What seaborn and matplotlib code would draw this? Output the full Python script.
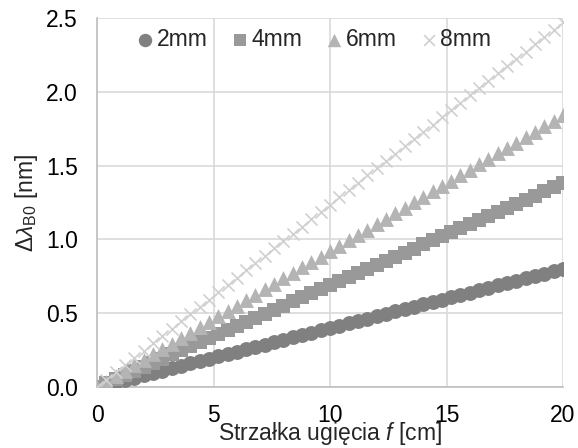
import matplotlib
matplotlib.use("Agg")
import matplotlib.pyplot as plt
import seaborn as sns
import pandas as pd

f_cm = [0.0, 0.4, 0.8, 1.2, 1.6, 2.0, 2.4, 2.8, 3.2, 3.6, 4.0, 4.4, 4.8, 5.2, 5.6, 6.0,
        6.4, 6.8, 7.2, 7.6, 8.0, 8.4, 8.8, 9.2, 9.6, 10.0, 10.4, 10.8, 11.2, 11.6, 12.0,
        12.4, 12.8, 13.2, 13.6, 14.0, 14.4, 14.8, 15.2, 15.6, 16.0, 16.4, 16.8, 17.2, 17.6,
        18.0, 18.4, 18.8, 19.2, 19.6, 20.0]

d2mm = [0, 0.016, 0.032, 0.048, 0.064, 0.080, 0.096, 0.112, 0.128, 0.144, 0.160, 0.176,
        0.192, 0.208, 0.224, 0.240, 0.256, 0.272, 0.288, 0.304, 0.320, 0.336, 0.352, 0.368,
        0.384, 0.400, 0.416, 0.432, 0.448, 0.464, 0.480, 0.496, 0.512, 0.528, 0.544, 0.560,
        0.576, 0.592, 0.608, 0.624, 0.640, 0.656, 0.672, 0.688, 0.704, 0.720, 0.736, 0.752,
        0.768, 0.784, 0.800]
d4mm = [0, 0.028, 0.055, 0.083, 0.110, 0.138, 0.166, 0.193, 0.221, 0.248, 0.276, 0.304,
        0.331, 0.359, 0.386, 0.414, 0.442, 0.469, 0.497, 0.524, 0.552, 0.580, 0.607, 0.635,
        0.662, 0.690, 0.718, 0.745, 0.773, 0.800, 0.828, 0.856, 0.883, 0.911, 0.938, 0.966,
        0.994, 1.021, 1.049, 1.076, 1.104, 1.132, 1.159, 1.187, 1.214, 1.242, 1.270, 1.297,
        1.325, 1.352, 1.380]
d6mm = [0, 0.037, 0.074, 0.110, 0.147, 0.184, 0.221, 0.258, 0.294, 0.331, 0.368, 0.405,
        0.442, 0.478, 0.515, 0.552, 0.589, 0.626, 0.662, 0.699, 0.736, 0.773, 0.810, 0.846,
        0.883, 0.920, 0.957, 0.994, 1.030, 1.067, 1.104, 1.141, 1.178, 1.214, 1.251, 1.288,
        1.325, 1.362, 1.398, 1.435, 1.472, 1.509, 1.546, 1.582, 1.619, 1.656, 1.693, 1.730,
        1.766, 1.803, 1.840]
d8mm = [0, 0.049, 0.099, 0.148, 0.198, 0.247, 0.296, 0.346, 0.395, 0.445, 0.494, 0.543,
        0.593, 0.642, 0.692, 0.741, 0.790, 0.840, 0.889, 0.939, 0.988, 1.037, 1.087, 1.136,
        1.186, 1.235, 1.284, 1.334, 1.383, 1.433, 1.482, 1.531, 1.581, 1.630, 1.680, 1.729,
        1.778, 1.828, 1.877, 1.927, 1.976, 2.025, 2.075, 2.124, 2.174, 2.223, 2.272, 2.322,
        2.371, 2.421, 2.470]

series_names = ["2mm", "4mm", "6mm", "8mm"]
series_vals = [d2mm, d4mm, d6mm, d8mm]
x_ticks = [0, 5, 10, 15, 20]
y_ticks = [0.0, 0.5, 1.0, 1.5, 2.0, 2.5]

rows = []
for name, vals in zip(series_names, series_vals):
    for xv, yv in zip(f_cm, vals):
        rows.append({"f": xv, "d": yv, "s": name})
df = pd.DataFrame(rows)

sns.set_theme(style="white")
plt.rcParams["font.family"] = ["Liberation Sans", "DejaVu Sans"]
plt.rcParams["mathtext.fontset"] = "custom"
plt.rcParams["mathtext.rm"] = "Liberation Sans"
plt.rcParams["mathtext.it"] = "Liberation Sans:italic"
plt.rcParams["mathtext.default"] = "regular"

FS = 16.5

fig = plt.figure(figsize=(5.78, 4.48), dpi=100)
ax = fig.add_axes([0.168, 0.136, 0.806, 0.824])

colors = {"2mm": "#808080", "4mm": "#999999", "6mm": "#b4b4b4", "8mm": "#d0d0d0"}
markers = {"2mm": "o", "4mm": "s", "6mm": "^", "8mm": "x"}
sizes = {"2mm": 115, "4mm": 90, "6mm": 115, "8mm": 75}

for name in series_names:
    sub = df[df["s"] == name]
    if name == "8mm":
        sns.scatterplot(data=sub, x="f", y="d", ax=ax, color=colors[name], marker="x",
                        s=sizes[name], linewidth=1.2, label=name, zorder=3)
    else:
        sns.scatterplot(data=sub, x="f", y="d", ax=ax, color=colors[name], marker=markers[name],
                        s=sizes[name], linewidth=0, label=name, zorder=3)

ax.set_xlim(0, 20)
ax.set_ylim(0, 2.5)
ax.set_xticks(x_ticks)
ax.set_yticks(y_ticks)
ax.set_yticklabels([f"{v:.1f}" for v in y_ticks])
ax.set_xticklabels([str(v) for v in x_ticks])
ax.tick_params(axis="both", length=0, labelsize=FS, colors="black")
ax.tick_params(axis="x", pad=12)
ax.tick_params(axis="y", pad=14)
ax.grid(True, color="#d9d9d9", linewidth=1.2)
ax.set_axisbelow(True)
for sp in ["top", "right"]:
    ax.spines[sp].set_visible(False)
for sp in ["left", "bottom"]:
    ax.spines[sp].set_color("#bfbfbf")
    ax.spines[sp].set_linewidth(1.2)

ax.set_xlabel(r"Strzałka ugięcia $\mathit{f}$ [cm]", fontsize=FS, labelpad=-5)
ax.set_ylabel(r"$\Delta\mathit{\lambda}_{\mathrm{B0}}$ [nm]", fontsize=FS, labelpad=4)

leg = ax.legend(loc="upper center", bbox_to_anchor=(0.462, 0.997), ncol=4, frameon=False,
                fontsize=FS, handletextpad=0.0, columnspacing=0.9, borderaxespad=0.0,
                handlelength=1.0, markerscale=0.9)

fig.savefig("out.png", dpi=100)
